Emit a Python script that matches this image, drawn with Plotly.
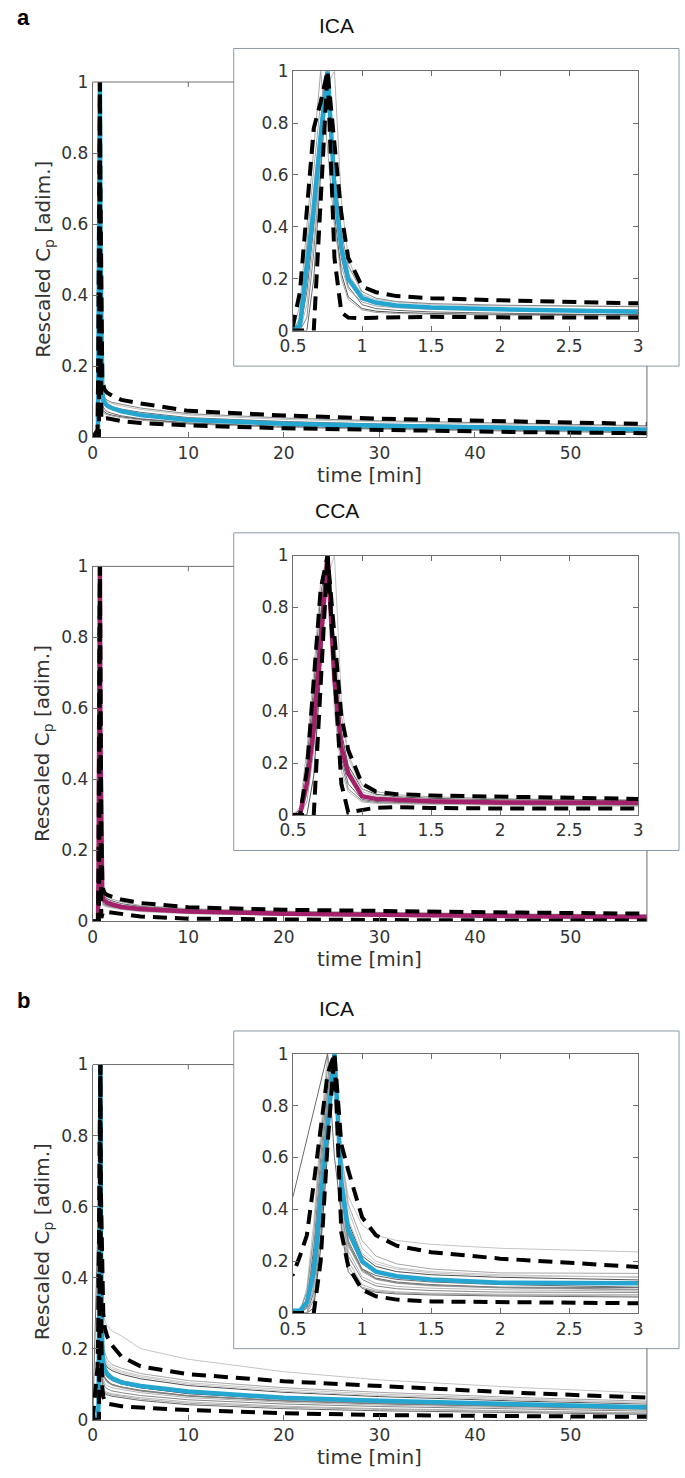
import plotly.graph_objects as go

W, H = 685, 1478

# common time grid [min], used by every curve (main plot and zoomed inset)
time_min = [0, 0.5, 0.55, 0.6, 0.65, 0.7, 0.75, 0.8, 0.85, 0.9, 1.0, 1.1,
            1.25, 1.5, 2, 3, 5, 10, 20, 30, 45, 58]

# ---- panel a, ICA ----
ica_a_mean = [0, 0, 0.02, 0.25, 0.47, 0.75, 1.0, 0.55, 0.32, 0.2, 0.125, 0.108,
              0.097, 0.089, 0.082, 0.073, 0.062, 0.048, 0.038, 0.032, 0.026, 0.021]
ica_a_upper = [0, 0.02, 0.15, 0.45, 0.78, 0.88, 1.0, 0.72, 0.45, 0.28, 0.17, 0.148,
               0.133, 0.125, 0.117, 0.105, 0.095, 0.074, 0.061, 0.052, 0.043, 0.037]
ica_a_lower = [0, 0, 0, 0, 0, 0.5, 1.0, 0.28, 0.07, 0.05, 0.048, 0.05,
               0.052, 0.053, 0.051, 0.045, 0.04, 0.033, 0.025, 0.02, 0.014, 0.011]
ica_a_subjects = [
    [0, 0, 0.05, 0.3, 0.55, 0.8, 1.0, 0.6, 0.35, 0.22, 0.14, 0.12, 0.11, 0.1, 0.095, 0.088, 0.078, 0.062, 0.05, 0.043, 0.035, 0.03],
    [0, 0, 0, 0.15, 0.4, 0.7, 1.0, 0.5, 0.28, 0.17, 0.1, 0.085, 0.078, 0.072, 0.067, 0.06, 0.052, 0.04, 0.03, 0.025, 0.019, 0.015],
    [0, 0, 0.1, 0.4, 0.7, 1.0, 0.7, 0.4, 0.25, 0.16, 0.11, 0.095, 0.088, 0.082, 0.077, 0.07, 0.06, 0.046, 0.036, 0.03, 0.024, 0.02],
    [0, 0, 0, 0.05, 0.3, 0.65, 1.0, 0.62, 0.38, 0.25, 0.15, 0.125, 0.112, 0.104, 0.098, 0.092, 0.082, 0.066, 0.054, 0.046, 0.038, 0.032],
    [0, 0, 0.02, 0.2, 0.5, 0.8, 1.0, 0.45, 0.22, 0.13, 0.085, 0.075, 0.07, 0.066, 0.062, 0.057, 0.05, 0.038, 0.028, 0.023, 0.017, 0.013],
    [0, 0, 0, 0.1, 0.35, 0.65, 0.95, 1.0, 0.5, 0.28, 0.14, 0.11, 0.098, 0.09, 0.084, 0.077, 0.066, 0.052, 0.041, 0.034, 0.027, 0.022],
    [0, 0, 0.04, 0.25, 0.5, 0.78, 1.0, 0.52, 0.3, 0.19, 0.12, 0.1, 0.092, 0.085, 0.078, 0.07, 0.06, 0.045, 0.034, 0.028, 0.022, 0.018],
    [0, 0, 0, 0, 0.2, 0.6, 1.0, 0.58, 0.33, 0.21, 0.13, 0.108, 0.098, 0.09, 0.085, 0.079, 0.07, 0.055, 0.044, 0.037, 0.03, 0.025],
    [0, 0, 0.05, 0.35, 0.62, 0.88, 1.0, 0.42, 0.2, 0.12, 0.08, 0.07, 0.066, 0.063, 0.06, 0.055, 0.048, 0.037, 0.028, 0.022, 0.017, 0.014],
]

# ---- panel a, CCA ----
cca_a_mean = [0, 0, 0, 0.12, 0.33, 0.66, 1.0, 0.52, 0.26, 0.16, 0.072, 0.062,
              0.057, 0.053, 0.048, 0.041, 0.035, 0.028, 0.022, 0.018, 0.015, 0.013]
cca_a_upper = [0, 0, 0, 0.17, 0.54, 0.87, 1.0, 0.7, 0.38, 0.25, 0.12, 0.09,
               0.08, 0.075, 0.07, 0.062, 0.052, 0.04, 0.033, 0.029, 0.025, 0.022]
cca_a_lower = [0, 0, 0, 0, 0, 0.5, 1.0, 0.55, 0.12, 0.01, 0.02, 0.028,
               0.03, 0.027, 0.025, 0.023, 0.014, 0.008, 0.005, 0.004, 0.003, 0.003]
cca_a_subjects = [
    [0, 0, 0, 0.1, 0.35, 0.7, 1.0, 0.6, 0.3, 0.18, 0.09, 0.072, 0.064, 0.058, 0.052, 0.046, 0.038, 0.03, 0.024, 0.02, 0.017, 0.015],
    [0, 0, 0.02, 0.2, 0.5, 0.85, 1.0, 0.5, 0.22, 0.12, 0.06, 0.052, 0.048, 0.045, 0.042, 0.037, 0.031, 0.024, 0.018, 0.015, 0.012, 0.01],
    [0, 0, 0, 0.05, 0.25, 0.6, 1.0, 0.68, 0.38, 0.23, 0.115, 0.09, 0.078, 0.07, 0.063, 0.055, 0.045, 0.036, 0.029, 0.025, 0.021, 0.019],
    [0, 0, 0, 0.12, 0.42, 0.78, 1.0, 0.45, 0.2, 0.1, 0.055, 0.048, 0.045, 0.043, 0.04, 0.036, 0.03, 0.024, 0.019, 0.016, 0.013, 0.011],
    [0, 0, 0, 0, 0.15, 0.55, 1.0, 0.62, 0.32, 0.19, 0.1, 0.08, 0.07, 0.064, 0.058, 0.05, 0.042, 0.033, 0.026, 0.022, 0.018, 0.016],
    [0, 0, 0.03, 0.25, 0.55, 0.9, 1.0, 0.4, 0.17, 0.09, 0.05, 0.045, 0.043, 0.041, 0.038, 0.034, 0.028, 0.022, 0.017, 0.014, 0.011, 0.009],
    [0, 0, 0, 0.08, 0.3, 0.62, 0.92, 1.0, 0.45, 0.22, 0.1, 0.075, 0.065, 0.06, 0.055, 0.048, 0.04, 0.031, 0.025, 0.021, 0.017, 0.015],
    [0, 0, 0, 0.15, 0.45, 0.75, 1.0, 0.55, 0.27, 0.15, 0.075, 0.062, 0.056, 0.052, 0.048, 0.042, 0.035, 0.027, 0.021, 0.018, 0.015, 0.013],
]

# ---- panel b, ICA ----
ica_b_mean = [0, 0.01, 0.01, 0.04, 0.16, 0.43, 0.72, 1.0, 0.5, 0.32, 0.2, 0.16,
              0.142, 0.13, 0.117, 0.105, 0.095, 0.079, 0.062, 0.053, 0.042, 0.035]
ica_b_upper = [0, 0.15, 0.22, 0.3, 0.5, 0.72, 0.92, 1.0, 0.65, 0.55, 0.37, 0.3,
               0.26, 0.235, 0.21, 0.178, 0.15, 0.128, 0.108, 0.095, 0.075, 0.062]
ica_b_lower = [0, 0, 0, 0, 0, 0.2, 0.65, 1.0, 0.31, 0.18, 0.09, 0.065,
               0.052, 0.045, 0.043, 0.038, 0.034, 0.027, 0.018, 0.013, 0.01, 0.008]
ica_b_subjects = [
    [0, 0, 0, 0.1, 0.35, 0.7, 1.0, 0.85, 0.6, 0.45, 0.34, 0.3, 0.28, 0.265, 0.25, 0.236, 0.2, 0.17, 0.135, 0.112, 0.09, 0.075],
    [0, 0.45, 0.56, 0.67, 0.78, 0.88, 1.0, 0.6, 0.38, 0.26, 0.17, 0.145, 0.13, 0.12, 0.11, 0.1, 0.09, 0.075, 0.06, 0.05, 0.04, 0.034],
    [0, 0, 0, 0.02, 0.12, 0.4, 0.75, 1.0, 0.45, 0.26, 0.16, 0.13, 0.115, 0.105, 0.097, 0.09, 0.08, 0.066, 0.052, 0.044, 0.035, 0.028],
    [0, 0, 0, 0, 0.05, 0.3, 0.7, 1.0, 0.4, 0.22, 0.13, 0.105, 0.094, 0.087, 0.081, 0.076, 0.068, 0.056, 0.044, 0.037, 0.03, 0.024],
    [0, 0, 0, 0.05, 0.25, 0.6, 0.9, 1.0, 0.55, 0.35, 0.22, 0.18, 0.16, 0.148, 0.138, 0.128, 0.115, 0.096, 0.077, 0.065, 0.052, 0.044],
    [0, 0, 0, 0, 0.1, 0.45, 0.85, 1.0, 0.38, 0.2, 0.11, 0.09, 0.082, 0.077, 0.073, 0.069, 0.062, 0.05, 0.038, 0.031, 0.024, 0.019],
    [0, 0, 0, 0.03, 0.2, 0.5, 0.8, 1.0, 0.6, 0.4, 0.25, 0.2, 0.175, 0.16, 0.148, 0.137, 0.124, 0.104, 0.085, 0.072, 0.058, 0.048],
    [0, 0, 0, 0, 0.08, 0.35, 0.7, 1.0, 0.48, 0.28, 0.17, 0.135, 0.12, 0.11, 0.1, 0.092, 0.082, 0.067, 0.053, 0.045, 0.036, 0.03],
    [0, 0, 0, 0.04, 0.18, 0.5, 0.82, 1.0, 0.35, 0.18, 0.1, 0.085, 0.078, 0.074, 0.07, 0.066, 0.058, 0.046, 0.035, 0.029, 0.022, 0.018],
    [0, 0, 0.01, 0.08, 0.3, 0.65, 0.95, 1.0, 0.5, 0.3, 0.19, 0.155, 0.138, 0.127, 0.118, 0.11, 0.098, 0.08, 0.063, 0.053, 0.043, 0.036],
    [0, 0, 0, 0, 0.02, 0.25, 0.62, 1.0, 0.52, 0.33, 0.2, 0.16, 0.14, 0.125, 0.113, 0.103, 0.09, 0.073, 0.058, 0.049, 0.039, 0.032],
    [0, 0, 0, 0.06, 0.28, 0.62, 0.9, 1.0, 0.42, 0.24, 0.14, 0.115, 0.103, 0.096, 0.09, 0.085, 0.076, 0.062, 0.049, 0.041, 0.033, 0.027],
    [0, 0, 0, 0, 0.06, 0.4, 0.8, 1.0, 0.58, 0.36, 0.23, 0.19, 0.17, 0.155, 0.143, 0.133, 0.12, 0.1, 0.08, 0.068, 0.055, 0.046],
    [0, 0, 0, 0.02, 0.15, 0.45, 0.78, 1.0, 0.32, 0.16, 0.095, 0.08, 0.074, 0.07, 0.066, 0.062, 0.054, 0.042, 0.031, 0.025, 0.019, 0.015],
    [0, 0, 0, 0, 0.1, 0.38, 0.75, 1.0, 0.62, 0.42, 0.28, 0.22, 0.19, 0.17, 0.155, 0.145, 0.13, 0.11, 0.09, 0.077, 0.062, 0.052],
    [0, 0, 0, 0.05, 0.22, 0.55, 0.85, 1.0, 0.46, 0.27, 0.165, 0.132, 0.117, 0.107, 0.099, 0.092, 0.083, 0.068, 0.054, 0.046, 0.037, 0.031],
]

BLUE = "#24a6d0"
MAGENTA = "#a3206a"
GREYS = ["#c4c4c4", "#6a6a6a", "#a6a6a6", "#858585", "#505050", "#b5b5b5"]
AXIS_COL = "#6e6e6e"
TICK_FONT = dict(family="DejaVu Sans", size=17, color="#333333")

panels = [
    dict(off=0, title="ICA", label="a", mean=ica_a_mean, upper=ica_a_upper,
         lower=ica_a_lower, subjects=ica_a_subjects, color=BLUE),
    dict(off=491, title="CCA", label=None, mean=cca_a_mean, upper=cca_a_upper,
         lower=cca_a_lower, subjects=cca_a_subjects, color=MAGENTA),
    dict(off=996, title="ICA", label="b", mean=ica_b_mean, upper=ica_b_upper,
         lower=ica_b_lower, subjects=ica_b_subjects, color=BLUE),
]


def px_x(px):
    return px / W


def px_y(py):
    return 1 - py / H


fig = go.Figure()
layout_axes = {}
shapes = []
annotations = []

for i, p in enumerate(panels):
    off = p["off"]
    for k, inset in enumerate([False, True]):
        n = 2 * i + 1 + k
        xref = "x" if n == 1 else f"x{n}"
        yref = "y" if n == 1 else f"y{n}"
        xname = "xaxis" if n == 1 else f"xaxis{n}"
        yname = "yaxis" if n == 1 else f"yaxis{n}"

        for j, s in enumerate(p["subjects"]):
            fig.add_trace(go.Scatter(x=time_min, y=s, mode="lines", xaxis=xref, yaxis=yref,
                                     line=dict(color=GREYS[j % len(GREYS)], width=1),
                                     showlegend=False, hoverinfo="skip"))
        fig.add_trace(go.Scatter(x=time_min, y=p["mean"], mode="lines", xaxis=xref, yaxis=yref,
                                 line=dict(color=p["color"], width=4.5), showlegend=False))
        for env in (p["upper"], p["lower"]):
            fig.add_trace(go.Scatter(x=time_min, y=env, mode="lines", xaxis=xref, yaxis=yref,
                                     line=dict(color="black", width=4, dash="14px,8px"),
                                     showlegend=False))

        common = dict(showgrid=False, zeroline=False, showline=True, linecolor=AXIS_COL,
                      linewidth=1, ticks="inside", ticklen=5, tickcolor=AXIS_COL,
                      tickfont=TICK_FONT)
        if not inset:
            layout_axes[xname] = dict(domain=[px_x(81), px_x(651)], range=[0, 58], anchor=yref,
                                      tickvals=[0, 10, 20, 30, 40, 50], **common)
            layout_axes[yname] = dict(domain=[px_y(433 + off), px_y(73 + off)], range=[0, 1],
                                      anchor=xref, tickvals=[0, 0.2, 0.4, 0.6, 0.8, 1], **common)
            # visible parts of the main frame (rest hidden by the inset box)
            shapes.append(dict(type="line", xref="paper", yref="paper", x0=px_x(81), x1=px_x(226),
                               y0=px_y(73 + off), y1=px_y(73 + off),
                               line=dict(color=AXIS_COL, width=1)))
            shapes.append(dict(type="line", xref="paper", yref="paper", x0=px_x(651), x1=px_x(651),
                               y0=px_y(433 + off), y1=px_y(361 + off),
                               line=dict(color=AXIS_COL, width=1)))
            shapes.append(dict(type="line", xref=xref, yref="paper", x0=10, x1=10,
                               y0=px_y(73 + off), y1=px_y(78 + off),
                               line=dict(color=AXIS_COL, width=1)))
        else:
            layout_axes[xname] = dict(domain=[px_x(287), px_x(642)], range=[0.5, 3], anchor=yref,
                                      tickvals=[0.5, 1, 1.5, 2, 2.5, 3], mirror="ticks", **common)
            layout_axes[yname] = dict(domain=[px_y(325 + off), px_y(62 + off)], range=[0, 1],
                                      anchor=xref, tickvals=[0, 0.2, 0.4, 0.6, 0.8, 1],
                                      mirror="ticks", **common)

    # inset frame
    shapes.append(dict(type="rect", xref="paper", yref="paper", layer="below",
                       x0=px_x(226), x1=px_x(684), y0=px_y(361 + off), y1=px_y(39 + off),
                       fillcolor="white", line=dict(color="#8a9aa9", width=1)))

    annotations.append(dict(text=p["title"], xref="paper", yref="paper", x=px_x(332),
                            y=px_y(16 + off), xanchor="center", yanchor="middle", showarrow=False,
                            font=dict(family="Liberation Sans", size=21, color="#111111")))
    annotations.append(dict(text="time [min]", xref="paper", yref="paper", x=px_x(366),
                            y=px_y(471 + off), xanchor="center", yanchor="middle", showarrow=False,
                            font=dict(family="DejaVu Sans", size=20, color="#333333")))
    annotations.append(dict(text="Rescaled C<sub>p</sub> [adim.]", xref="paper", yref="paper",
                            x=px_x(30), y=px_y(253 + off), xanchor="center", yanchor="middle",
                            textangle=-90, showarrow=False,
                            font=dict(family="DejaVu Sans", size=20, color="#333333")))
    if p["label"]:
        annotations.append(dict(text="<b>" + p["label"] + "</b>", xref="paper", yref="paper",
                                x=px_x(1), y=px_y(8 + off), xanchor="left", yanchor="middle",
                                showarrow=False,
                                font=dict(family="Liberation Sans", size=22, color="black")))

fig.update_layout(width=W, height=H, autosize=False, margin=dict(l=0, r=0, t=0, b=0),
                  paper_bgcolor="white", plot_bgcolor="rgba(0,0,0,0)", showlegend=False,
                  shapes=shapes, annotations=annotations, **layout_axes)

# drop the default page margin so the figure sits at the window's top-left corner
fig.write_html("out.html", config={"displayModeBar": False},
               post_script="document.body.style.margin='0';")
